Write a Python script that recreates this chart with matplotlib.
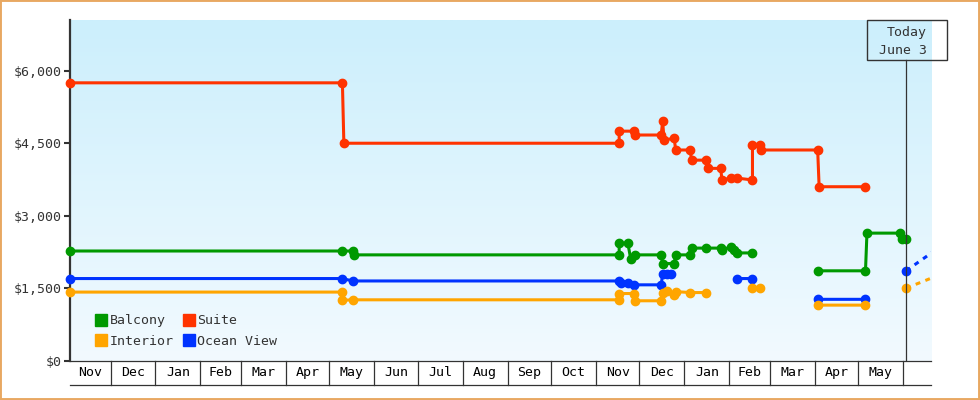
import numpy as np
import pandas as pd
import matplotlib
matplotlib.use('Agg')
import matplotlib.pyplot as plt
from matplotlib.colors import LinearSegmentedColormap
from matplotlib.lines import Line2D
from matplotlib.patches import Rectangle
from matplotlib.ticker import FuncFormatter

plt.rcParams['font.family'] = 'DejaVu Sans Mono'
plt.rcParams['font.size'] = 9.5
nan = np.nan

# price history
suite_dates = ['2021-11-03', '2022-05-10', '2022-05-11', '2022-11-17', '2022-11-17', '2022-11-27',
               '2022-11-28', '2022-12-16', '2022-12-17', '2022-12-18', '2022-12-25', '2022-12-26',
               '2023-01-05', '2023-01-06', '2023-01-16', '2023-01-17', '2023-01-26', '2023-01-27',
               '2023-02-02', '2023-02-06', '2023-02-17', '2023-02-17', '2023-02-22', '2023-02-23',
               '2023-04-03', '2023-04-04', '2023-05-06']
suite_prices = [5750, 5750, 4500, 4500, 4750, 4750,
                4670, 4670, 4950, 4570, 4600, 4360,
                4360, 4150, 4150, 3980, 3980, 3740,
                3780, 3780, 3740, 4460, 4460, 4360,
                4360, 3600, 3600]

balcony_dates = ['2021-11-03', '2022-05-10', '2022-05-17', '2022-05-18', '2022-11-17', '2022-11-17',
                 '2022-11-23', '2022-11-25', '2022-11-28', '2022-12-16', '2022-12-17', '2022-12-25',
                 '2022-12-26', '2023-01-05', '2023-01-06', '2023-01-16', '2023-01-26', '2023-01-27',
                 '2023-02-02', '2023-02-04', '2023-02-06', '2023-02-17', '2023-03-10', '2023-04-03',
                 '2023-05-06', '2023-05-07', '2023-05-30', '2023-05-31', '2023-06-03']
balcony_prices = [2270, 2270, 2270, 2190, 2190, 2430,
                  2430, 2100, 2190, 2190, 2010, 2010,
                  2190, 2190, 2330, 2330, 2330, 2290,
                  2360, 2290, 2230, 2230, nan, 1860,
                  1860, 2640, 2640, 2510, 2510]

ocean_dates = ['2021-11-03', '2022-05-10', '2022-05-17', '2022-11-17', '2022-11-18', '2022-11-23',
               '2022-11-27', '2022-12-16', '2022-12-17', '2022-12-20', '2022-12-23', '2023-01-20',
               '2023-02-06', '2023-02-17', '2023-03-10', '2023-04-03', '2023-05-06', '2023-05-20',
               '2023-06-03']
ocean_prices = [1700, 1700, 1650, 1650, 1600, 1600,
                1570, 1570, 1790, 1790, 1790, nan,
                1700, 1700, nan, 1270, 1270, nan,
                1860]

interior_dates = ['2021-11-03', '2022-05-10', '2022-05-10', '2022-05-17', '2022-11-17', '2022-11-17',
                  '2022-11-27', '2022-11-28', '2022-12-16', '2022-12-17', '2022-12-20', '2022-12-25',
                  '2022-12-26', '2023-01-05', '2023-01-16', '2023-02-01', '2023-02-17', '2023-02-22',
                  '2023-03-10', '2023-04-03', '2023-05-06', '2023-05-20', '2023-06-03']
interior_prices = [1420, 1420, 1250, 1260, 1260, 1390,
                   1390, 1240, 1240, 1410, 1450, 1360,
                   1430, 1410, 1410, nan, 1500, 1500,
                   nan, 1150, 1150, nan, 1500]

# projection past today (dashed)
forecast_dates = ['2023-06-03', '2023-06-21']
ocean_forecast = [1860, 2240]
interior_forecast = [1500, 1716]

today = '2023-06-03'
x_start, x_end = '2021-11-03', '2023-06-20 05:00'
y_ticks = [0, 1500, 3000, 4500, 6000]

colors = {'Balcony': '#009900', 'Suite': '#FF3300', 'Interior': '#FFA500', 'Ocean View': '#0033FF'}
dark = '#333333'

fig = plt.figure(figsize=(9.8, 4.0), dpi=100)
pos = [70 / 980, 39.3 / 400, 861 / 980, 340.7 / 400]

# gradient background behind the plot
bg = fig.add_axes(pos, zorder=0)
cmap = LinearSegmentedColormap.from_list('bg', ['#F2FAFF', '#CCEFFC'])
bg.imshow(np.linspace(0, 1, 256).reshape(-1, 1), cmap=cmap, aspect='auto', origin='lower',
          extent=[0, 1, 0, 1])
bg.axis('off')

ax = fig.add_axes(pos, zorder=1)
ax.patch.set_alpha(0)

series = [('Suite', suite_dates, suite_prices),
          ('Balcony', balcony_dates, balcony_prices),
          ('Ocean View', ocean_dates, ocean_prices),
          ('Interior', interior_dates, interior_prices)]
for name, d, p in series:
    ax.plot(pd.to_datetime(d), p, color=colors[name], lw=2.2, marker='o', ms=6,
            clip_on=False, zorder=3)

fd = pd.to_datetime(forecast_dates)
ax.plot(fd, ocean_forecast, color=colors['Ocean View'], lw=2.2, dashes=(1.6, 1.8), zorder=2)
ax.plot(fd, interior_forecast, color=colors['Interior'], lw=2.2, dashes=(1.6, 1.8), zorder=2)

xs, xe = pd.Timestamp(x_start), pd.Timestamp(x_end)
ax.set_xlim(xs, xe)
ax.set_ylim(0, 7050)

ax.set_yticks(y_ticks)
ax.yaxis.set_major_formatter(FuncFormatter(lambda v, p: '${:,.0f}'.format(v)))
ax.tick_params(axis='y', length=4, width=1.5, color=dark, labelcolor=dark, pad=2)
ax.set_xticks([])

for s in ['top', 'right']:
    ax.spines[s].set_visible(False)
ax.spines['left'].set_color(dark)
ax.spines['left'].set_linewidth(1.6)
ax.spines['bottom'].set_color(dark)
ax.spines['bottom'].set_linewidth(0.9)

# month boxes under the axis
trans = ax.get_xaxis_transform()
box_bottom = -0.072
ax.plot([xs, xe], [box_bottom, box_bottom], color=dark, lw=0.9, transform=trans, clip_on=False)
month_starts = pd.date_range('2021-11-01', '2023-07-01', freq='MS')
for i in range(len(month_starts) - 1):
    m0, m1 = month_starts[i], month_starts[i + 1]
    a, b = max(m0, xs), min(m1, xe)
    if m0 > xs:
        ax.plot([m0, m0], [0, box_bottom], color=dark, lw=0.9, transform=trans, clip_on=False)
    if (b - a).days >= 20:
        ax.text(a + (b - a) / 2, box_bottom / 2, m0.strftime('%b'), transform=trans,
                ha='center', va='center', color='black', fontsize=9.5)

# today marker
top_frac = (360.7 - 60.3) / 340.7
ax.axvline(pd.Timestamp(today), ymax=top_frac, color=dark, lw=0.9, zorder=4)
fig.patches.append(Rectangle((867.3 / 980, 1 - 60.3 / 400), 80 / 980, 40 / 400,
                             transform=fig.transFigure, fill=False, edgecolor=dark, lw=1))
fig.text(927 / 980, 1 - 32.5 / 400, 'Today', ha='right', va='center', color=dark, fontsize=9.5)
fig.text(927 / 980, 1 - 51 / 400, 'June 3', ha='right', va='center', color=dark, fontsize=9.5)

# legend
order = ['Balcony', 'Interior', 'Suite', 'Ocean View']
handles = [Line2D([], [], ls='none', marker='s', ms=8, color=colors[n]) for n in order]
ax.legend(handles, order, ncol=2, loc='upper left', bbox_to_anchor=(0.022, 0.155), frameon=False,
          borderpad=0, handlelength=0.8, handletextpad=0.25, columnspacing=0.75, labelspacing=0.55,
          fontsize=9.5, labelcolor=dark)

# orange outer border
fig.patches.append(Rectangle((0, 0), 1, 1, transform=fig.transFigure, fill=False,
                             edgecolor='#E8A862', lw=2.8))

fig.savefig('out.png', dpi=100)
